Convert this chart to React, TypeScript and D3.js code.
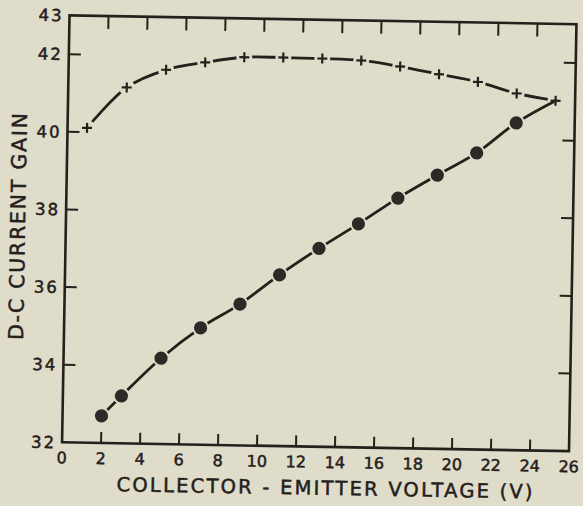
import React from "react";
import * as d3 from "d3";

const W = 583;
const H = 506;

// Series 1: crosses (dashed curve)
const crossV = [1, 3, 5, 7, 9, 11, 13, 15, 17, 19, 21, 23, 25];
const crossGain = [40.11, 41.17, 41.64, 41.85, 42.0, 42.01, 42.0, 41.97, 41.83, 41.65, 41.47, 41.19, 41.02];

// Series 2: filled circles (solid line, ending at the last cross)
const circleV = [2, 3, 5, 7, 9, 11, 13, 15, 17, 19, 21, 23];
const circleGain = [32.7, 33.22, 34.21, 35.01, 35.64, 36.41, 37.11, 37.76, 38.44, 39.05, 39.64, 40.43];
const circleLineEndV = 25;
const circleLineEndGain = 41.02;

const xTickLabels = [0, 2, 4, 6, 8, 10, 12, 14, 16, 18, 20, 22, 24, 26];
const xTickMarks = [2, 4, 6, 8, 10, 12, 14, 16, 18, 20, 22, 24];
const yTickLabels = [32, 34, 36, 38, 40, 42, 43];
const yTickMarks = [34, 36, 38, 40, 42];

const xTitle = "COLLECTOR - EMITTER VOLTAGE   (V)";
const yTitle = "D-C CURRENT GAIN";

const BG = "#e0dcca";
const INK = "#25201c";

export default function App() {
  const left = 65.75, right = 572.75, top = 19.75, bottom = 446.75;
  const cx = (left + right) / 2, cy = (top + bottom) / 2;
  const x = d3.scaleLinear().domain([0, 26]).range([left, right]);
  const y = d3.scaleLinear().domain([32, 43]).range([bottom, top]);

  const crossPts: [number, number][] = crossV.map((v, i) => [x(v), y(crossGain[i])]);
  const circlePts: [number, number][] = circleV.map((v, i) => [x(v), y(circleGain[i])]);
  const circleLinePts: [number, number][] = [...circlePts, [x(circleLineEndV), y(circleLineEndGain)]];

  const line = d3.line().curve(d3.curveCatmullRom.alpha(0.5));
  const crossPath = line(crossPts) || "";
  const circlePath = line(circleLinePts) || "";

  const font = "'DejaVu Sans', sans-serif";
  const tickLen = 12;
  const textStroke = { stroke: INK, strokeWidth: 0.5 };

  return (
    <svg width={W} height={H} style={{ position: "absolute", left: 0, top: 0, background: BG }}>
      <rect x={0} y={0} width={W} height={H} fill={BG} />
      <defs>
        <mask id="crossMask" maskUnits="userSpaceOnUse" x={-100} y={-100} width={W + 200} height={H + 200}>
          <rect x={-100} y={-100} width={W + 200} height={H + 200} fill="white" />
          {crossPts.map((p, i) => (
            <circle key={i} cx={p[0]} cy={p[1]} r={8} fill="black" />
          ))}
        </mask>
        <mask id="circleMask" maskUnits="userSpaceOnUse" x={-100} y={-100} width={W + 200} height={H + 200}>
          <rect x={-100} y={-100} width={W + 200} height={H + 200} fill="white" />
          {circlePts.map((p, i) => (
            <circle key={i} cx={p[0]} cy={p[1]} r={8.5} fill="black" />
          ))}
        </mask>
      </defs>
      <g transform={`rotate(1 ${cx} ${cy})`}>
        {/* frame */}
        <rect x={left} y={top} width={right - left} height={bottom - top} fill="none" stroke={INK} strokeWidth={2.6} />
        {/* x ticks bottom and top */}
        {xTickMarks.map((v) => (
          <g key={"xt" + v}>
            <line x1={x(v)} x2={x(v)} y1={bottom} y2={bottom - 11} stroke={INK} strokeWidth={2} />
            <line x1={x(v)} x2={x(v)} y1={top} y2={top + 13} stroke={INK} strokeWidth={2} />
          </g>
        ))}
        {/* y ticks left and right */}
        {yTickMarks.map((v) => (
          <g key={"yt" + v}>
            <line x1={left} x2={left + tickLen} y1={y(v)} y2={y(v)} stroke={INK} strokeWidth={2} />
            <line x1={right} x2={right - tickLen} y1={y(v)} y2={y(v)} stroke={INK} strokeWidth={2} />
          </g>
        ))}
        {/* x labels */}
        {xTickLabels.map((v) => (
          <text key={"xl" + v} x={x(v)} y={bottom + 21} textAnchor="middle" fontFamily={font} fontSize={16} fill={INK} {...textStroke}>
            {v}
          </text>
        ))}
        {/* y labels */}
        {yTickLabels.map((v) => (
          <text key={"yl" + v} x={left - 6} y={y(v) + 6} textAnchor="end" fontFamily={font} fontSize={16.5} letterSpacing={2} fill={INK} {...textStroke}>
            {v}
          </text>
        ))}
        {/* titles */}
        <text x={x(13.5)} y={bottom + 48} textAnchor="middle" fontFamily={font} fontSize={19.5} fill={INK} {...textStroke}
          textLength={416} lengthAdjust="spacing">
          {xTitle}
        </text>
        <text transform={`translate(25 ${cy - 1.5}) rotate(-90)`} textAnchor="middle" fontFamily={font} fontSize={20.5} fill={INK} {...textStroke}
          textLength={227} lengthAdjust="spacing">
          {yTitle}
        </text>
        {/* crosses curve */}
        <path d={crossPath} fill="none" stroke={INK} strokeWidth={2.8} mask="url(#crossMask)" />
        {crossPts.map((p, i) => (
          <g key={"c" + i} stroke={INK} strokeWidth={2.2}>
            <line x1={p[0] - 5} x2={p[0] + 5} y1={p[1]} y2={p[1]} />
            <line x1={p[0]} x2={p[0]} y1={p[1] - 5} y2={p[1] + 5} />
          </g>
        ))}
        {/* circles line */}
        <path d={circlePath} fill="none" stroke={INK} strokeWidth={2.8} mask="url(#circleMask)" />
        {circlePts.map((p, i) => (
          <circle key={"o" + i} cx={p[0]} cy={p[1]} r={6.6} fill="#2e2926" />
        ))}
      </g>
    </svg>
  );
}
